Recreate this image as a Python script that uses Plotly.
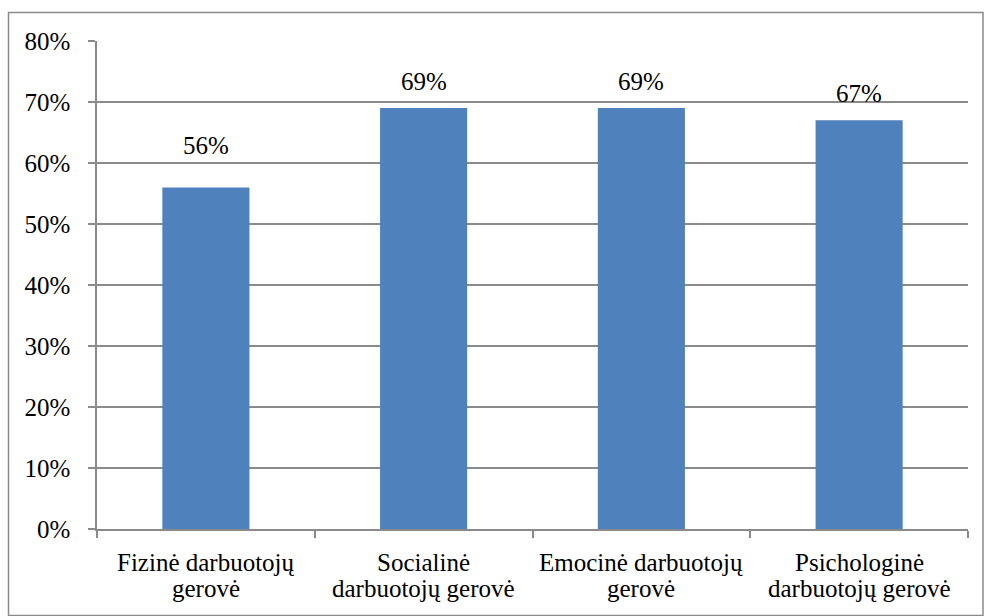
import plotly.graph_objects as go

categories = [
    "Fizinė darbuotojų<br>gerovė",
    "Socialinė<br>darbuotojų gerovė",
    "Emocinė darbuotojų<br>gerovė",
    "Psichologinė<br>darbuotojų gerovė",
]
values = [0.56, 0.69, 0.69, 0.67]
y_ticks = [0, 0.1, 0.2, 0.3, 0.4, 0.5, 0.6, 0.7, 0.8]
y_tick_text = ["0%", "10%", "20%", "30%", "40%", "50%", "60%", "70%", "80%"]

# vertical gap (px) between each bar top and its value label
label_gaps = [26, 11, 11, 11]

FONT = "Liberation Serif"
FS = 25
GRID = "#8a8a8a"
W, H = 984, 616
ML, MR, MT, MB = 97, 16, 41, 87

fig = go.Figure(
    go.Bar(
        x=list(range(len(categories))),
        y=values,
        marker=dict(color="#4F81BD", line=dict(width=0)),
        width=0.4,
        hoverinfo="skip",
    )
)

# value labels above each bar
for i, v in enumerate(values):
    fig.add_annotation(
        x=i, y=v, xref="x", yref="y",
        text=f"{round(v * 100)}%",
        showarrow=False, yanchor="bottom", yshift=label_gaps[i],
        font=dict(family=FONT, size=FS, color="#000000"),
    )

# two-line category labels, one annotation per line for tight leading
for i, label in enumerate(categories):
    for j, line in enumerate(label.split("<br>")):
        fig.add_annotation(
            x=i, y=0, xref="x", yref="y",
            text=line, showarrow=False, yanchor="top",
            yshift=-18 - 26 * j,
            font=dict(family=FONT, size=FS, color="#000000"),
        )

pw, ph = W - ML - MR, H - MT - MB
fig.add_shape(
    type="rect", xref="paper", yref="paper",
    x0=(8.5 - ML) / pw, x1=(983 - ML) / pw,
    y0=-(H - 0.5 - (H - MB)) / ph, y1=((H - MB) - 12.5) / ph,
    line=dict(color="#8a8a8a", width=1.5), fillcolor="rgba(0,0,0,0)",
    layer="below",
)

fig.update_layout(
    width=W, height=H,
    margin=dict(l=ML, r=MR, t=MT, b=MB, pad=0),
    paper_bgcolor="white", plot_bgcolor="white",
    showlegend=False,
    font=dict(family=FONT, size=FS, color="#000000"),
)
fig.update_xaxes(
    type="linear",
    range=[-0.5, len(categories) - 0.5],
    tickvals=[k - 0.5 for k in range(len(categories) + 1)],
    ticktext=[""] * (len(categories) + 1),
    ticks="outside", ticklen=7, tickcolor=GRID, tickwidth=1.5,
    showgrid=False, zeroline=False,
    showline=True, linecolor=GRID, linewidth=1.5,
)
fig.update_yaxes(
    range=[0, 0.8],
    tickvals=y_ticks, ticktext=y_tick_text,
    ticks="outside", ticklen=7, tickcolor=GRID, tickwidth=1.5,
    ticklabelstandoff=13,
    showgrid=True, gridcolor=GRID, gridwidth=1.5,
    zeroline=False,
    showline=True, linecolor=GRID, linewidth=1.5,
    tickfont=dict(family=FONT, size=FS, color="#000000"),
)

fig.write_html("out.html")
